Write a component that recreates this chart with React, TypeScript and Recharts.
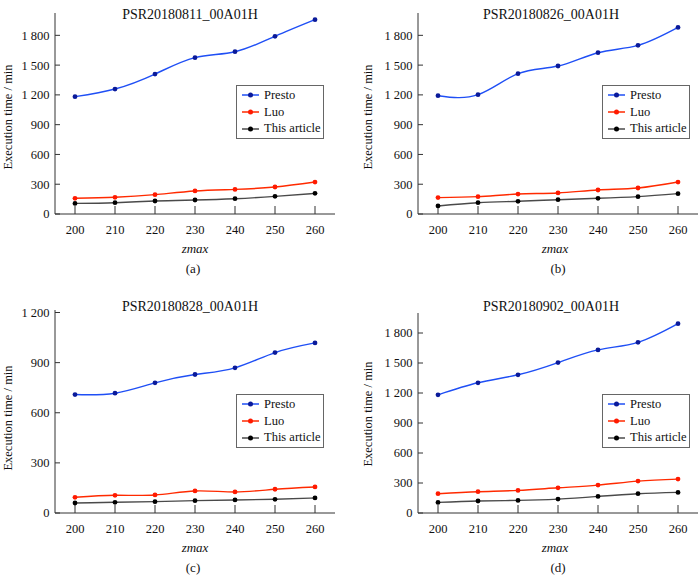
import { Legend, Line, LineChart, XAxis, YAxis } from "recharts"

const zmax = [200, 210, 220, 230, 240, 250, 260]
const ticksTall = [0, 300, 600, 900, 1200, 1500, 1800]
const ticksShort = [0, 300, 600, 900, 1200]

// (a) PSR20180811_00A01H
const prestoA = [1182, 1259, 1410, 1575, 1635, 1790, 1958]
const luoA = [158, 168, 195, 232, 248, 272, 322]
const oursA = [107, 114, 131, 141, 154, 178, 208]

// (b) PSR20180826_00A01H
const prestoB = [1192, 1202, 1414, 1491, 1625, 1699, 1880]
const luoB = [165, 175, 201, 212, 242, 262, 322]
const oursB = [81, 114, 128, 144, 158, 175, 205]

// (c) PSR20180828_00A01H
const prestoC = [709, 717, 779, 829, 869, 960, 1018]
const luoC = [94, 106, 108, 132, 126, 142, 156]
const oursC = [60, 64, 68, 74, 78, 82, 90]

// (d) PSR20180902_00A01H
const prestoD = [1182, 1302, 1382, 1504, 1631, 1707, 1893]
const luoD = [193, 213, 226, 252, 279, 319, 339]
const oursD = [106, 120, 126, 139, 166, 193, 206]

const FONT = '"Liberation Serif", "Times New Roman", serif'

const SERIES = [
  { key: "presto", name: "Presto", line: "#1f4ff5", dot: "#0a1a9a" },
  { key: "luo", name: "Luo", line: "#ff2a00", dot: "#ff1a00" },
  { key: "ours", name: "This article", line: "#4a4a4a", dot: "#000000" },
]

const rows = (p: number[], l: number[], o: number[]) =>
  zmax.map((z, i) => ({ zmax: z, presto: p[i], luo: l[i], ours: o[i] }))

const PANELS = [
  {
    id: "a", title: "PSR20180811_00A01H", data: rows(prestoA, luoA, oursA),
    x: 0, y: 0, yMax: 2025, ticks: ticksTall, axisW: 55,
    margin: { top: 13, right: 15, left: 0, bottom: 46 },
    legend: { left: 236, top: 85 },
    titleX: 190, titleY: 15, ylabX: 8, ylabY: 117, zX: 195, zY: 248, tagX: 193, tagY: 268,
  },
  {
    id: "b", title: "PSR20180826_00A01H", data: rows(prestoB, luoB, oursB),
    x: 350, y: 0, yMax: 2025, ticks: ticksTall, axisW: 68,
    margin: { top: 13, right: 2, left: 0, bottom: 46 },
    legend: { left: 252, top: 85 },
    titleX: 201, titleY: 15, ylabX: 18, ylabY: 117, zX: 205, zY: 248, tagX: 208, tagY: 268,
  },
  {
    id: "c", title: "PSR20180828_00A01H", data: rows(prestoC, luoC, oursC),
    x: 0, y: 290, yMax: 1215, ticks: ticksShort, axisW: 55,
    margin: { top: 20, right: 15, left: 0, bottom: 37 },
    legend: { left: 236, top: 104 },
    titleX: 190, titleY: 17, ylabX: 8, ylabY: 128, zX: 195, zY: 257, tagX: 193, tagY: 277,
  },
  {
    id: "d", title: "PSR20180902_00A01H", data: rows(prestoD, luoD, oursD),
    x: 350, y: 290, yMax: 2000, ticks: ticksTall, axisW: 68,
    margin: { top: 23, right: 2, left: 0, bottom: 37 },
    legend: { left: 252, top: 104 },
    titleX: 201, titleY: 17, ylabX: 18, ylabY: 124, zX: 205, zY: 257, tagX: 208, tagY: 277,
  },
]

const fmt = (v: number) => (v >= 1000 ? `${Math.floor(v / 1000)} ${String(v % 1000).padStart(3, "0")}` : `${v}`)

function LegendBox({ payload }: any) {
  const items = SERIES.map((s) => ({
    s,
    entry: (payload || []).find((e: any) => e.dataKey === s.key),
  })).filter((x) => x.entry)
  return (
    <div
      style={{
        border: "1px solid #666",
        background: "#fff",
        width: 88,
        boxSizing: "border-box",
        padding: "1px 4px 1px 5px",
        fontFamily: FONT,
        fontSize: 12.5,
        color: "#111",
      }}
    >
      {items.map(({ s, entry }) => (
        <div key={s.key} style={{ display: "flex", alignItems: "center", height: 16.7 }}>
          <svg width={17} height={8} style={{ flex: "none" }}>
            <line x1={0} y1={4} x2={17} y2={4} stroke={s.line} strokeWidth={1.5} />
            <circle cx={8.5} cy={4} r={2.5} fill={s.dot} />
          </svg>
          <span style={{ marginLeft: 5, whiteSpace: "nowrap" }}>{entry.value}</span>
        </div>
      ))}
    </div>
  )
}

const textAt = (x: number, y: number, extra: any = {}) => ({
  position: "absolute" as const,
  left: x,
  top: y,
  transform: "translate(-50%, -50%)",
  whiteSpace: "nowrap" as const,
  lineHeight: 1,
  fontFamily: FONT,
  color: "#111",
  ...extra,
})

function Panel({ p }: { p: (typeof PANELS)[number] }) {
  return (
    <div style={{ position: "absolute", left: p.x, top: p.y, width: 350, height: 290 }}>
      <LineChart width={350} height={290} data={p.data} margin={p.margin}>
        <XAxis
          dataKey="zmax"
          type="number"
          domain={[195, 265]}
          ticks={zmax}
          height={30}
          tickSize={-8}
          tickMargin={19}
          stroke="#333"
          tick={{ fill: "#111", fontSize: 12.5, fontFamily: FONT }}
          interval={0}
        />
        <YAxis
          type="number"
          domain={[0, p.yMax]}
          ticks={p.ticks}
          width={p.axisW}
          tickSize={-5}
          tickMargin={10.5}
          tickFormatter={fmt}
          stroke="#333"
          tick={{ fill: "#111", fontSize: 12.5, fontFamily: FONT }}
          interval={0}
        />
        {SERIES.map((s) => (
          <Line
            key={s.key}
            dataKey={s.key}
            name={s.name}
            type="natural"
            stroke={s.line}
            strokeWidth={1.4}
            dot={{ r: 2.4, fill: s.dot, stroke: s.dot, strokeWidth: 0 }}
            activeDot={false}
            isAnimationActive={false}
          />
        ))}
        <Legend
          layout="vertical"
          align="center"
          verticalAlign="middle"
          content={<LegendBox />}
          wrapperStyle={{ left: p.legend.left, top: p.legend.top, width: 88 }}
        />
      </LineChart>
      <div style={textAt(p.titleX, p.titleY, { fontSize: 14 })}>{p.title}</div>
      <div style={textAt(p.ylabX, p.ylabY, { fontSize: 12.5, transform: "translate(-50%, -50%) rotate(-90deg)" })}>
        Execution time / min
      </div>
      <div style={textAt(p.zX, p.zY, { fontSize: 13, fontStyle: "italic" })}>zmax</div>
      <div style={textAt(p.tagX, p.tagY, { fontSize: 13 })}>({p.id})</div>
    </div>
  )
}

export default function App() {
  return (
    <div
      style={{
        position: "absolute",
        left: 0,
        top: 0,
        width: 700,
        height: 577,
        overflow: "hidden",
        background: "#fff",
      }}
    >
      {PANELS.map((p) => (
        <Panel key={p.id} p={p} />
      ))}
    </div>
  )
}
